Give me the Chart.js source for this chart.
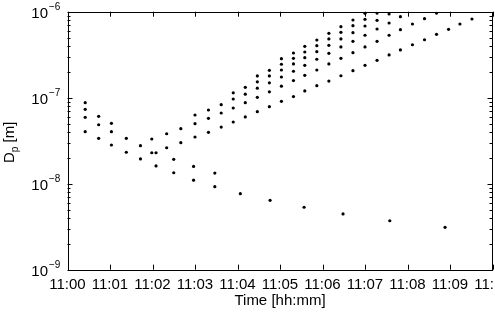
<!DOCTYPE html>
<html>
<head>
<meta charset="utf-8">
<script src="https://cdn.jsdelivr.net/npm/chart.js@4.4.0/dist/chart.umd.min.js"></script>
<style>
html, body { margin: 0; padding: 0; background: #fff; overflow: hidden; }
</style>
</head>
<body>
<canvas id="chart" width="495" height="312"></canvas>
<script>
// scan times in seconds after 11:00, one per scan
const scanTimes = [25, 44, 62, 83, 103, 119, 125, 140, 150, 160, 178, 180, 199, 208, 217, 234, 244, 251,
    268, 285, 286, 302, 319, 334, 335, 352, 369, 386, 389, 403, 420, 437, 454, 455, 470, 487, 504,
    521, 533, 538, 554, 571];

// particle diameters [m] found in each scan
const scanDiameters = [
    [8.75e-8, 7.33e-8, 5.92e-8, 4.03e-8],
    [6.08e-8, 4.85e-8, 3.37e-8],
    [5.04e-8, 4.03e-8, 2.82e-8],
    [3.37e-8, 2.32e-8],
    [2.77e-8, 1.94e-8],
    [3.31e-8, 2.29e-8],
    [2.29e-8, 1.61e-8],
    [3.81e-8, 2.62e-8],
    [1.92e-8, 1.34e-8],
    [4.36e-8, 3.00e-8],
    [1.59e-8, 1.10e-8],
    [6.29e-8, 4.99e-8, 3.49e-8],
    [7.19e-8, 5.76e-8, 3.96e-8],
    [1.33e-8, 9.23e-9],
    [8.29e-8, 6.64e-8, 4.56e-8],
    [1.14e-7, 9.66e-8, 7.59e-8, 5.22e-8],
    [7.65e-9],
    [1.32e-7, 1.10e-7, 8.75e-8, 5.97e-8],
    [1.79e-7, 1.53e-7, 1.29e-7, 1.01e-7, 6.88e-8],
    [2.08e-7, 1.79e-7, 1.49e-7, 1.17e-7, 7.86e-8],
    [6.41e-9],
    [2.84e-7, 2.45e-7, 2.10e-7, 1.74e-7, 1.36e-7, 9.08e-8],
    [3.31e-7, 2.87e-7, 2.47e-7, 2.03e-7, 1.58e-7, 1.03e-7],
    [5.32e-9],
    [3.96e-7, 3.40e-7, 2.92e-7, 2.38e-7, 1.82e-7, 1.20e-7],
    [4.69e-7, 4.03e-7, 3.43e-7, 2.80e-7, 2.10e-7, 1.38e-7],
    [5.61e-7, 4.82e-7, 4.06e-7, 3.28e-7, 2.47e-7, 1.56e-7],
    [6.70e-7, 5.76e-7, 4.82e-7, 3.89e-7, 2.87e-7, 1.80e-7],
    [4.45e-9],
    [8.01e-7, 6.87e-7, 5.70e-7, 4.53e-7, 3.34e-7, 2.06e-7],
    [9.58e-7, 8.16e-7, 6.82e-7, 5.32e-7, 3.89e-7, 2.38e-7],
    [9.65e-7, 7.94e-7, 6.29e-7, 4.53e-7, 2.72e-7],
    [9.40e-7, 7.39e-7, 5.32e-7, 3.14e-7],
    [3.71e-9],
    [8.75e-7, 6.18e-7, 3.59e-7],
    [7.19e-7, 4.13e-7],
    [8.29e-7, 4.72e-7],
    [9.65e-7, 5.46e-7],
    [3.11e-9],
    [6.24e-7],
    [7.19e-7],
    [8.22e-7]
];

// axis ticks
const xTickSeconds = [0, 60, 120, 180, 240, 300, 360, 420, 480, 540, 600];
const yTickExponents = [-9, -8, -7, -6];

const points = [];
scanTimes.forEach((t, i) => {
    scanDiameters[i].forEach(d => points.push({ x: t, y: d }));
});

const FONT = '"Liberation Sans", Arial, sans-serif';

// box, inward tick marks, y labels with exponents and the y title
const framePlugin = {
    id: 'frame',
    afterDraw(chart) {
        const { ctx, chartArea: a, scales: { x, y } } = chart;
        ctx.save();
        ctx.strokeStyle = '#000';
        ctx.lineWidth = 1;
        ctx.beginPath();
        xTickSeconds.forEach(s => {
            const px = Math.round(x.getPixelForValue(s)) + 0.5;
            ctx.moveTo(px, a.bottom); ctx.lineTo(px, a.bottom - 5);
            ctx.moveTo(px, a.top); ctx.lineTo(px, a.top + 5);
        });
        yTickExponents.forEach(e => {
            for (let m = 1; m <= 9; m++) {
                const v = m * Math.pow(10, e);
                if (v > 1.0001e-6) break;
                const py = Math.round(y.getPixelForValue(v)) + 0.5;
                const len = m === 1 ? 5 : 3;
                ctx.moveTo(a.left, py); ctx.lineTo(a.left + len, py);
                ctx.moveTo(a.right, py); ctx.lineTo(a.right - len, py);
            }
        });
        ctx.stroke();
        ctx.strokeRect(Math.round(a.left) + 0.5, Math.round(a.top) + 0.5,
            Math.round(a.right - a.left) - 1, Math.round(a.bottom - a.top));

        ctx.fillStyle = '#000';
        yTickExponents.forEach(e => {
            const py = y.getPixelForValue(Math.pow(10, e));
            ctx.font = '15px ' + FONT;
            ctx.textAlign = 'right';
            ctx.textBaseline = 'alphabetic';
            ctx.fillText('10', 48, py + 6);
            ctx.font = '10px ' + FONT;
            ctx.textAlign = 'left';
            ctx.fillText('\u2212' + Math.abs(e), 49, py - 2);
        });

        ctx.translate(14, 163);
        ctx.rotate(-Math.PI / 2);
        ctx.textAlign = 'left';
        ctx.font = '15px ' + FONT;
        ctx.fillText('D', 0, 0);
        let w = ctx.measureText('D').width;
        ctx.font = '10px ' + FONT;
        ctx.fillText('p', w, 4);
        w += ctx.measureText('p').width;
        ctx.font = '15px ' + FONT;
        ctx.fillText(' [m]', w, 0);
        ctx.restore();
    }
};

new Chart(document.getElementById('chart'), {
    type: 'scatter',
    data: {
        datasets: [{
            data: points,
            backgroundColor: '#000',
            borderWidth: 0,
            pointRadius: 1.6,
            pointHoverRadius: 1.6
        }]
    },
    options: {
        responsive: false,
        animation: false,
        events: [],
        layout: { padding: { top: 11.7, right: 2.5, left: 0, bottom: 0 } },
        plugins: { legend: { display: false }, tooltip: { enabled: false } },
        scales: {
            x: {
                type: 'linear',
                min: 0,
                max: 600,
                afterBuildTicks: s => { s.ticks = xTickSeconds.map(v => ({ value: v })); },
                afterFit: s => { s.height = 42.3; s.paddingLeft = 0; s.paddingRight = 0; },
                grid: { display: false, drawTicks: false, tickLength: 0 },
                border: { display: false },
                ticks: {
                    autoSkip: false,
                    maxRotation: 0,
                    padding: 6,
                    color: '#000',
                    font: { family: FONT, size: 15 },
                    callback: v => '11:' + String(v / 60).padStart(2, '0')
                },
                title: {
                    display: true,
                    text: 'Time [hh:mm]',
                    color: '#000',
                    font: { family: FONT, size: 15 },
                    padding: { top: 0, bottom: 2 }
                }
            },
            y: {
                type: 'logarithmic',
                min: 1e-9,
                max: 1e-6,
                afterFit: s => { s.width = 67.5; s.paddingTop = 0; s.paddingBottom = 0; },
                grid: { display: false, drawTicks: false },
                border: { display: false },
                ticks: { display: false }
            }
        }
    },
    plugins: [framePlugin]
});
</script>
</body>
</html>
